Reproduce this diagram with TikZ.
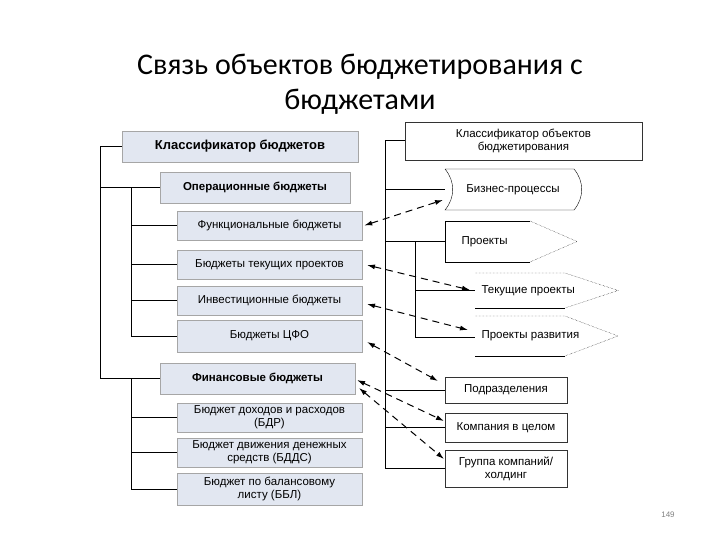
\documentclass[tikz,border=0pt]{standalone}
\usepackage{fontspec}
\setmainfont{Liberation Sans}
\newfontfamily\titlefont{Carlito}
\usetikzlibrary{arrows.meta}
\definecolor{boxfill}{RGB}{226,231,241}
\tikzset{
  bud/.style={draw=gray!70,fill=boxfill,font=\fontsize{11.5}{13}\selectfont,align=center,inner sep=0pt},
  obj/.style={draw=black!80,fill=white,font=\fontsize{11.5}{13}\selectfont,align=center,inner sep=0pt},
  lbl/.style={font=\fontsize{11.5}{13}\selectfont},
  tree/.style={line width=1pt},
  link/.style={line width=1pt,dash pattern=on 7pt off 5pt,{Latex[length=8pt,width=5pt]}-{Latex[length=8pt,width=5pt]}},
}
\begin{document}
\begin{tikzpicture}[x=1pt,y=-1pt]
 \useasboundingbox (0,0) rectangle (720,540);
 % title
 \node[font=\titlefont\fontsize{30}{35}\selectfont,align=center] (title) at (360,84) {Связь объектов бюджетирования с\\бюджетами};
 \node[font=\fontsize{8}{9}\selectfont,text=gray] (page) at (668,515) {149};
 % budgets
 \node[bud,minimum width=236pt,minimum height=31pt,font=\bfseries\fontsize{13}{15}\selectfont] (kb) at (240,146.5) {Классификатор бюджетов};
 \node[bud,minimum width=190pt,minimum height=31pt,font=\bfseries\fontsize{11.5}{13}\selectfont] (op) at (255,187.5) {Операционные бюджеты};
 \node[bud,minimum width=185pt,minimum height=29pt] (fb) at (269.5,225.5) {Функциональные бюджеты};
 \node[bud,minimum width=185pt,minimum height=29pt] (tp) at (269.5,264.5) {Бюджеты текущих проектов};
 \node[bud,minimum width=185pt,minimum height=29pt] (ib) at (269.5,300.5) {Инвестиционные бюджеты};
 \node[bud,minimum width=185pt,minimum height=32pt] (cfo) at (269.5,336) {Бюджеты ЦФО};
 \node[bud,minimum width=195pt,minimum height=31pt,font=\bfseries\fontsize{11.5}{13}\selectfont] (fin) at (257.5,378.5) {Финансовые бюджеты};
 \node[bud,minimum width=185pt,minimum height=29pt] (bdr) at (269.5,417.5) {Бюджет доходов и расходов\\(БДР)};
 \node[bud,minimum width=185pt,minimum height=29pt] (bdds) at (269.5,452.5) {Бюджет движения денежных\\средств (БДДС)};
 \node[bud,minimum width=185pt,minimum height=32pt] (bbl) at (269.5,489) {Бюджет по балансовому\\листу (ББЛ)};
 \draw[tree] (kb.west) -- (100,146.5) |- (fin.west);
 \draw[tree] (100,187.5) -- (op.west);
 \draw[tree] (131,187.5) |- (cfo.west);
 \foreach \n in {fb,tp,ib}{\draw[tree] (131,0 |- \n.west) -- (\n.west);}
 \draw[tree] (131,378.5) |- (bbl.west);
 \foreach \n in {bdr,bdds}{\draw[tree] (131,0 |- \n.west) -- (\n.west);}
 % objects
 \node[obj,minimum width=237pt,minimum height=38pt] (ko) at (523.5,141) {Классификатор объектов\\бюджетирования};
 \node[lbl] (bp) at (513,189.5) {Бизнес-процессы};
 \draw[thin] (445,169) -- (574,169) to[bend left=40] (574,210) -- (445,210) to[bend right=40] (445,169);
 \node[lbl,anchor=west] (pr) at (458,241.5) {Проекты};
 \draw[thin] (530,221) -- (445,221) -- (445,262) -- (530,262);
 \draw[thin,densely dotted] (530,221) -- (577,241.5) -- (530,262);
 \node[lbl,anchor=west] (cur) at (478,290.5) {Текущие проекты};
 \draw[thin] (475,308) -- (565,308);
 \draw[thin,densely dotted] (475,273) -- (565,273) -- (618,290.5) -- (565,308);
 \node[lbl,anchor=west] (dev) at (478,336) {Проекты развития};
 \draw[thin] (475,356) -- (565,356);
 \draw[thin,densely dotted] (475,316) -- (565,316) -- (618,336) -- (565,356);
 \node[obj,minimum width=122pt,minimum height=26pt] (pod) at (506,390) {Подразделения};
 \node[obj,minimum width=122pt,minimum height=29pt] (comp) at (506,427.5) {Компания в целом};
 \node[obj,minimum width=122pt,minimum height=37pt] (grp) at (506,468.5) {Группа компаний/\\холдинг};
 \draw[tree] (ko.west) -- (385,141) |- (grp.west);
 \draw[tree] (385,190) -- (445,190);
 \draw[tree] (385,241.5) -- (445,241.5);
 \draw[tree] (415,241.5) |- (475,337);
 \draw (415,290.5) -- (475,290.5);
 \foreach \n in {pod,comp}{\draw[tree] (385,0 |- \n.west) -- (\n.west);}
 % links
 \draw[link] (fb.east) ++(2,0) coordinate (a1) -- (443,200) coordinate (b1);
 \draw[link] (367,265) coordinate (a2) -- (470,290) coordinate (b2);
 \draw[link] (367,304) coordinate (a3) -- (468,330) coordinate (b3);
 \draw[link] (367,342) coordinate (a4) -- (438,381) coordinate (b4);
 \draw[link] (357,380) coordinate (a5) -- (444,421) coordinate (b5);
 \draw[link] (359,388) coordinate (a6) -- (444,459) coordinate (b6);
\end{tikzpicture}
\end{document}
